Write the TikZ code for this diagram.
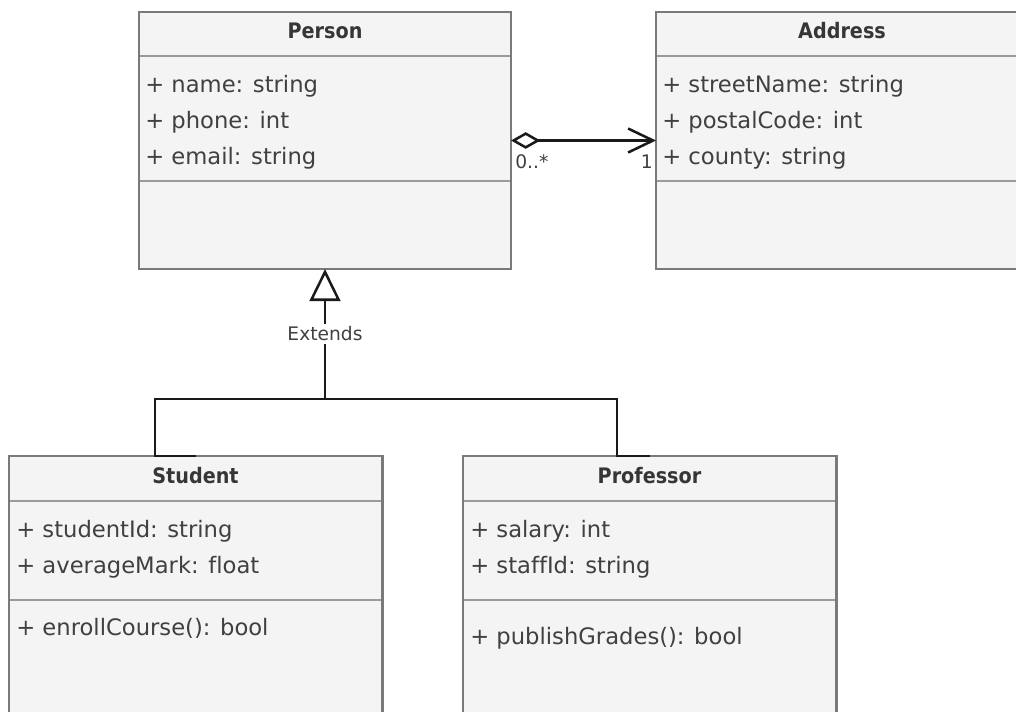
\documentclass[tikz,border=0pt]{standalone}
\usepackage{fontspec}
\setmainfont[Ligatures=NoCommon]{DejaVu Sans}
\newfontfamily\headfont[FakeStretch=0.9,Ligatures=NoCommon]{DejaVu Sans}
\usetikzlibrary{arrows.meta}
\definecolor{boxfill}{HTML}{F4F4F4}
\definecolor{boxline}{HTML}{7A7A7A}
\definecolor{sepline}{HTML}{9A9A9A}
\definecolor{txt}{HTML}{404040}
\definecolor{wire}{HTML}{1A1A1A}
\begin{document}
\begin{tikzpicture}[x=0.75pt,y=-0.75pt,
  classbox/.style={draw=boxline, fill=boxfill, line width=2pt, inner sep=0pt, outer sep=0pt, anchor=north west},
  title/.style={font=\headfont\bfseries\fontsize{16}{19}\selectfont, text=txt!85!black, anchor=base, inner sep=0pt},
  member/.style={font=\fontsize{17}{20}\selectfont, text=txt, anchor=base west, inner sep=0pt},
  sep/.style={draw=sepline, line width=1.1pt},
  wire/.style={draw=wire, line width=1.9pt},
  tag/.style={font=\fontsize{14}{16}\selectfont, text=txt, inner sep=0pt}]
\useasboundingbox (0,0) rectangle (1016,711);
\clip (0,0) rectangle (1016,711);

% class boxes
\node[classbox, minimum width=279pt, minimum height=192.75pt] (person) at (139,12) {};
\node[classbox, minimum width=279pt, minimum height=192.75pt] (address) at (656,12) {};
\node[classbox, minimum width=280pt, minimum height=240pt] (student) at (9,456) {};
\node[classbox, minimum width=280pt, minimum height=240pt] (professor) at (463,456) {};

% compartment separators
\draw[sep] (140,56) -- (510,56);
\draw[sep] (140,181) -- (510,181);
\draw[sep] (657,56) -- (1040,56);
\draw[sep] (657,181) -- (1040,181);
\draw[sep] (10,501) -- (381,501);
\draw[sep] (10,600) -- (381,600);
\draw[sep] (464,501) -- (835,501);
\draw[sep] (464,600) -- (835,600);

% Person
\node[title] (personT) at (325,38) {Person};
\node[member] (p1) at (145,92) {+ name: string};
\node[member] (p2) at (145,128) {+ phone: int};
\node[member] (p3) at (145,164) {+ email: string};

% Address
\node[title] (addressT) at (842,38) {Address};
\node[member] (a1) at (662,92) {+ streetName: string};
\node[member] (a2) at (662,128) {+ postalCode: int};
\node[member] (a3) at (662,164) {+ county: string};

% Student
\node[title] (studentT) at (195.5,483) {Student};
\node[member] (s1) at (16,537) {+ studentId: string};
\node[member] (s2) at (16,573) {+ averageMark: float};
\node[member] (s3) at (16,635) {+ enrollCourse(): bool};

% Professor
\node[title] (professorT) at (649.5,483) {Professor};
\node[member] (f1) at (470,537) {+ salary: int};
\node[member] (f2) at (470,573) {+ staffId: string};
\node[member] (f3) at (470,644) {+ publishGrades(): bool};

% aggregation Person -> Address
\draw[wire, {Diamond[open, length=22pt, width=12.5pt]}-{Straight Barb[length=18.75pt, width=18pt]}]
  (person.east) -- (address.west);
\node[tag, anchor=base west] (multMany) at (515,168) {0..*};
\node[tag, anchor=base east] (multOne) at (653,168) {1};

% generalisation Student/Professor -> Person
\coordinate (hub) at (325,399);
\draw[wire] (student.north) -- ++(-40.5,0) |- (hub);
\draw[wire] (professor.north) -- ++(-32.5,0) |- (hub);
\draw[wire, -{Triangle[open, length=24pt, width=23pt]}] (hub) --
  node[tag, fill=white, inner sep=2pt, pos=0.5] (ext) {Extends} (person.south);
\end{tikzpicture}
\end{document}
